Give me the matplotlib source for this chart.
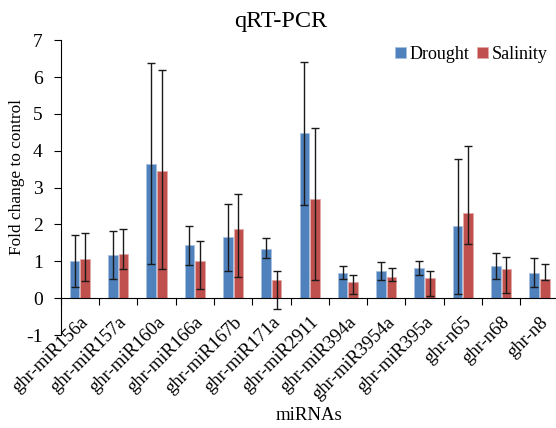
import numpy as np
import matplotlib
matplotlib.use('Agg')
import matplotlib.pyplot as plt

# Data
mirnas = ['ghr-miR156a', 'ghr-miR157a', 'ghr-miR160a', 'ghr-miR166a', 'ghr-miR167b',
          'ghr-miR171a', 'ghr-miR2911', 'ghr-miR394a', 'ghr-miR3954a', 'ghr-miR395a',
          'ghr-n65', 'ghr-n68', 'ghr-n8']

drought = [1.00, 1.17, 3.64, 1.43, 1.65, 1.34, 4.47, 0.69, 0.73, 0.82, 1.96, 0.87, 0.67]
drought_hi = [1.72, 1.83, 6.39, 1.97, 2.55, 1.62, 6.42, 0.86, 0.97, 1.02, 3.79, 1.22, 1.08]
drought_lo = [0.29, 0.51, 0.93, 0.91, 0.75, 1.08, 2.54, 0.51, 0.48, 0.62, 0.12, 0.53, 0.29]

salinity = [1.05, 1.20, 3.44, 1.02, 1.89, 0.50, 2.69, 0.43, 0.58, 0.54, 2.31, 0.78, 0.53]
salinity_hi = [1.76, 1.87, 6.19, 1.56, 2.82, 0.75, 4.63, 0.63, 0.82, 0.75, 4.14, 1.11, 0.93]
salinity_lo = [0.47, 0.78, 0.78, 0.26, 0.57, -0.29, 0.50, 0.10, 0.46, 0.07, 1.48, 0.15, 0.49]

BLUE = '#4F81BD'
RED = '#C0504D'

plt.rcParams['font.family'] = ['Liberation Serif', 'DejaVu Serif']
plt.rcParams['axes.unicode_minus'] = False

fig = plt.figure(figsize=(5.56, 4.28), dpi=100)
ax = fig.add_axes([60.7 / 556, 93 / 428, 497.9 / 556, 294.7 / 428])

x = np.arange(len(mirnas))
w = 0.25
off = 0.138


def err(vals, lo, hi):
    vals = np.array(vals)
    return np.vstack([vals - np.array(lo), np.array(hi) - vals])


ekw = dict(ecolor='#1a1a1a', elinewidth=1.0, capsize=2.6, capthick=1.0)
ax.bar(x - off, drought, w, color=BLUE, edgecolor='#a9c1e0', linewidth=0.6,
       label='Drought', yerr=err(drought, drought_lo, drought_hi), error_kw=ekw, zorder=2)
ax.bar(x + off, salinity, w, color=RED, edgecolor='#e3a9a7', linewidth=0.6,
       label='Salinity', yerr=err(salinity, salinity_lo, salinity_hi), error_kw=ekw, zorder=2)

ax.set_xlim(-0.5, len(mirnas) - 0.5)
ax.set_ylim(-1, 7)
ax.set_yticks(range(-1, 8))
ax.tick_params(axis='y', direction='out', length=5, width=0.8, labelsize=14, pad=8)

ax.spines['top'].set_visible(False)
ax.spines['right'].set_visible(False)
ax.spines['bottom'].set_position(('data', 0))
ax.spines['left'].set_linewidth(0.8)
ax.spines['bottom'].set_linewidth(0.8)

ax.set_xticks(x)
ax.set_xticklabels(mirnas, rotation=45, ha='right', rotation_mode='anchor', fontsize=13.5)
ax.tick_params(axis='x', which='major', length=0, pad=11)
ax.set_xticks(np.arange(-0.5, len(mirnas), 1.0), minor=True)
ax.tick_params(axis='x', which='minor', direction='out', length=5, width=0.8)

fig.text(17 / 556, 1 - 177 / 428, 'Fold change to control', rotation=90,
         ha='center', va='center', fontsize=12.4)
fig.text(309 / 556, 1 - 415 / 428, 'miRNAs', ha='center', va='center', fontsize=13.5)
fig.text(281 / 556, 1 - 22 / 428, 'qRT-PCR', ha='center', va='center', fontsize=17.5)

ax.legend(loc='upper right', bbox_to_anchor=(560 / 556, 1 - 33 / 428),
          bbox_transform=fig.transFigure, ncol=2, frameon=False, fontsize=13,
          handlelength=0.6, handleheight=0.6, handletextpad=0.2, columnspacing=0.4,
          borderpad=0.2)

fig.savefig('out.png', dpi=100)
